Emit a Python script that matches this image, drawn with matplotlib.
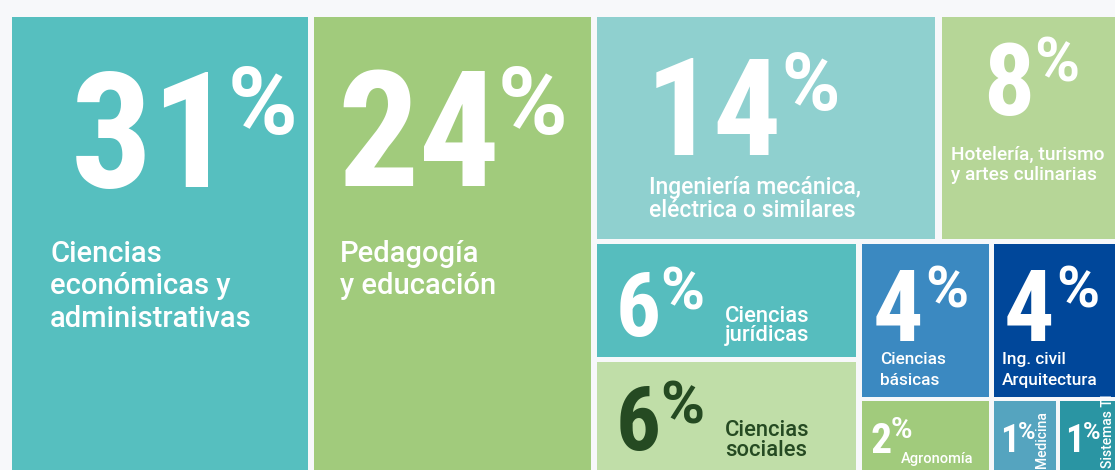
import matplotlib
matplotlib.use("Agg")
import matplotlib.pyplot as plt
from matplotlib.patches import Rectangle

plt.rcParams['font.family'] = ['Roboto', 'DejaVu Sans']
NUM_FONT = ['Roboto Condensed', 'Roboto', 'DejaVu Sans']
PCT_FONT = ['Roboto', 'DejaVu Sans']

# data
labels = ["Ciencias\neconómicas y\nadministrativas", "Pedagogía\ny educación",
          "Ingeniería mecánica,\neléctrica o similares", "Hotelería, turismo\ny artes culinarias",
          "Ciencias\njurídicas", "Ciencias\nsociales", "Ciencias\nbásicas",
          "Ing. civil\nArquitectura", "Agronomía", "Medicina", "Sistemas TI"]
shares = [31, 24, 14, 8, 6, 6, 4, 4, 2, 1, 1]
tile_colors = ["#56bfbf", "#a1cb7c", "#8fd0cf", "#b6d697", "#56bdbe", "#c0dea8",
               "#3b89c1", "#00479a", "#a1cb7c", "#55a4bf", "#2a95a3"]
text_colors = ["white"] * 5 + ["#254a22"] + ["white"] * 5

# layout (pixel space, y down): box, number (x, baseline, size), % (baseline, size, gap),
# label (x, first baseline, size, line step, rotation)
layout = [
    dict(box=(12, 17, 308, 470), num=(71, 187, 116), pct=(134, 68, -6), lab=(50, 262, 21, 32.5, 0)),
    dict(box=(314, 17, 591, 470), num=(337, 186, 116), pct=(134, 68, -2), lab=(340, 262, 21, 32.5, 0)),
    dict(box=(597, 17, 935, 239), num=(646, 155, 97), pct=(110, 57, -1), lab=(649, 194, 16.5, 23, 0)),
    dict(box=(942, 17, 1118, 239), num=(983, 115, 73), pct=(82, 44, 0), lab=(951, 160, 13.8, 20, 0)),
    dict(box=(597, 244, 856, 357), num=(616, 336, 64), pct=(309, 43, -1), lab=(725, 322, 15.8, 19.5, 0)),
    dict(box=(597, 362, 856, 473), num=(616, 450, 64), pct=(424, 43, -1), lab=(725, 436, 15.8, 20.5, 0)),
    dict(box=(862, 244, 989, 397), num=(873, 341, 72), pct=(308, 42, 2), lab=(880, 364, 12.4, 20.7, 0)),
    dict(box=(994, 244, 1118, 397), num=(1004, 341, 72), pct=(308, 42, 2), lab=(1002, 364, 12.4, 20.7, 0)),
    dict(box=(862, 401, 989, 473), num=(870, 453, 30), pct=(438, 21, -1), lab=(901, 463, 10.5, 0, 0)),
    dict(box=(994, 401, 1056, 473), num=(1000, 452, 27), pct=(439, 17, -1), lab=(1041.7, 468, 10, 0, 90)),
    dict(box=(1060, 401, 1118, 473), num=(1065, 452, 27), pct=(439, 17, -1), lab=(1107.5, 468, 10, 0, 90)),
]

fig = plt.figure(figsize=(11.15, 4.70), dpi=100, facecolor="#f7f8fa")
ax = fig.add_axes([0, 0, 1, 1])
ax.set_xlim(0, 1115)
ax.set_ylim(470, 0)
ax.axis("off")
renderer = fig.canvas.get_renderer()
inv = ax.transData.inverted()

for lab, val, col, tcol, lay in zip(labels, shares, tile_colors, text_colors, layout):
    x0, y0, x1, y1 = lay["box"]
    ax.add_patch(Rectangle((x0, y0), x1 - x0, y1 - y0, color=col, lw=0))
    nx, ny, ns = lay["num"]
    t = ax.text(nx, ny, str(val), fontsize=ns, fontweight="bold", color=tcol,
                family=NUM_FONT, ha="left", va="baseline")
    # % sits as a superscript right after the number
    bb = t.get_window_extent(renderer)
    right = inv.transform((bb.x1, bb.y0))[0]
    py, ps, gap = lay["pct"]
    ax.text(right + gap, py, "%", fontsize=ps, fontweight="bold", color=tcol,
            family=PCT_FONT, ha="left", va="baseline")
    lx, ly, ls, step, rot = lay["lab"]
    if rot:
        ax.text(lx, ly, lab, fontsize=ls, fontweight="medium", color=tcol,
                rotation=rot, ha="center", va="bottom")
    else:
        for i, line in enumerate(lab.split("\n")):
            ax.text(lx, ly + i * step, line, fontsize=ls, fontweight="medium",
                    color=tcol, ha="left", va="baseline")

fig.savefig("out.png", dpi=100, facecolor=fig.get_facecolor())
